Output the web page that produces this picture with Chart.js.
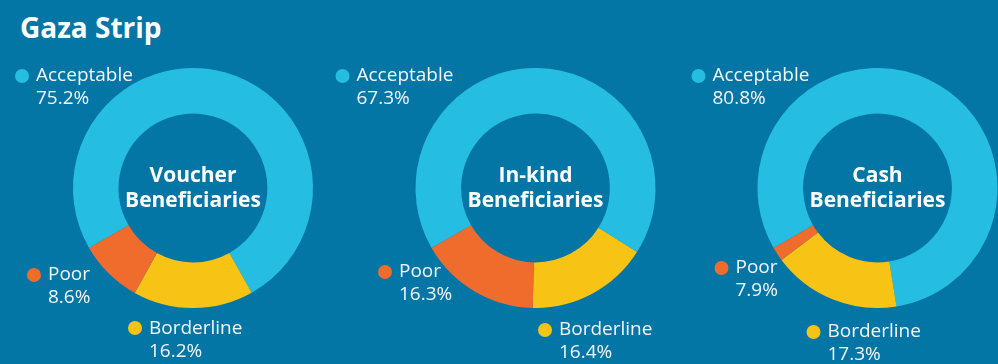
<!DOCTYPE html>
<html>
<head>
<meta charset="utf-8">
<script src="https://cdn.jsdelivr.net/npm/chart.js@4"></script>
<style>
  html, body { margin: 0; padding: 0; background: #0376a6; }
  #wrap { position: relative; width: 998px; height: 364px; background: #0376a6; overflow: hidden; }
  #wrap canvas { position: absolute; left: 0; top: 0; }
  #title {
    position: absolute; left: 20px; top: 10px; margin: 0;
    font: 700 28px 'Open Sans', sans-serif; color: #fff; line-height: 34px;
  }
</style>
</head>
<body>
<div id="wrap">
  <h1 id="title">Gaza Strip</h1>
  <canvas id="c0"></canvas>
  <canvas id="c1"></canvas>
  <canvas id="c2"></canvas>
</div>
<script>
// data
const categories = ['Acceptable', 'Borderline', 'Poor'];
const groupNames = ['Voucher', 'In-kind', 'Cash'];
const voucherValues = [75.2, 16.2, 8.6];
const inKindValues = [67.3, 16.4, 16.3];
const cashValues = [80.8, 17.3, 1.9]; // poor slice as drawn in the source
const voucherLabels = ['75.2%', '16.2%', '8.6%'];
const inKindLabels = ['67.3%', '16.4%', '16.3%'];
const cashLabels = ['80.8%', '17.3%', '7.9%'];

const colors = ['#26bde3', '#f7c416', '#f06c2d'];
const W = 998, H = 364;

// per chart: donut centre x, and label anchor offsets (dot x, dot y, first baseline) from centre
const layouts = [
  { cx: 193, anchors: [[-171, -112, -107], [-58, 140, 146], [-159, 87, 92]] },
  { cx: 535.5, anchors: [[-193, -112, -107], [9.5, 142, 147], [-150.5, 84, 89]] },
  { cx: 877.5, anchors: [[-179, -112, -107], [-64, 144, 149], [-156, 80, 85]] }
];
const valueSets = [voucherValues, inKindValues, cashValues];
const labelSets = [voucherLabels, inKindLabels, cashLabels];

const labelPlugin = {
  id: 'donutText',
  afterDraw(chart, args, opts) {
    const ctx = chart.ctx;
    const arc = chart.getDatasetMeta(0).data[0];
    const cx = arc.x, cy = arc.y;
    ctx.save();
    ctx.fillStyle = '#ffffff';
    ctx.textAlign = 'center';
    ctx.textBaseline = 'alphabetic';
    ctx.font = "700 21px 'Open Sans', sans-serif";
    ctx.fillText(opts.name, cx, cy - 6);
    ctx.fillText('Beneficiaries', cx, cy + 19);

    ctx.textAlign = 'left';
    ctx.font = "500 19px 'Open Sans', sans-serif";
    chart.data.labels.forEach((lab, i) => {
      const a = opts.anchors[i];
      ctx.fillStyle = colors[i];
      ctx.beginPath();
      ctx.arc(cx + a[0], cy + a[1], 7, 0, Math.PI * 2);
      ctx.fill();
      ctx.fillStyle = '#f4f7f9';
      ctx.fillText(lab, cx + a[0] + 14, cy + a[2]);
      ctx.fillText(opts.pct[i], cx + a[0] + 14, cy + a[2] + 23);
    });
    ctx.restore();
  }
};

layouts.forEach((lay, k) => {
  const cv = document.getElementById('c' + k);
  cv.width = W; cv.height = H;
  cv.style.width = W + 'px'; cv.style.height = H + 'px';
  new Chart(cv, {
    type: 'doughnut',
    data: {
      labels: categories,
      datasets: [{
        data: valueSets[k],
        backgroundColor: colors,
        borderWidth: 0,
        hoverOffset: 0
      }]
    },
    options: {
      responsive: false,
      animation: false,
      events: [],
      rotation: 240,
      cutout: '62%',
      layout: {
        padding: { left: lay.cx - 120, right: W - (lay.cx + 120), top: 68, bottom: H - 308 }
      },
      plugins: {
        legend: { display: false },
        tooltip: { enabled: false },
        donutText: { name: groupNames[k], anchors: lay.anchors, pct: labelSets[k] }
      }
    },
    plugins: [labelPlugin]
  });
});
</script>
</body>
</html>
